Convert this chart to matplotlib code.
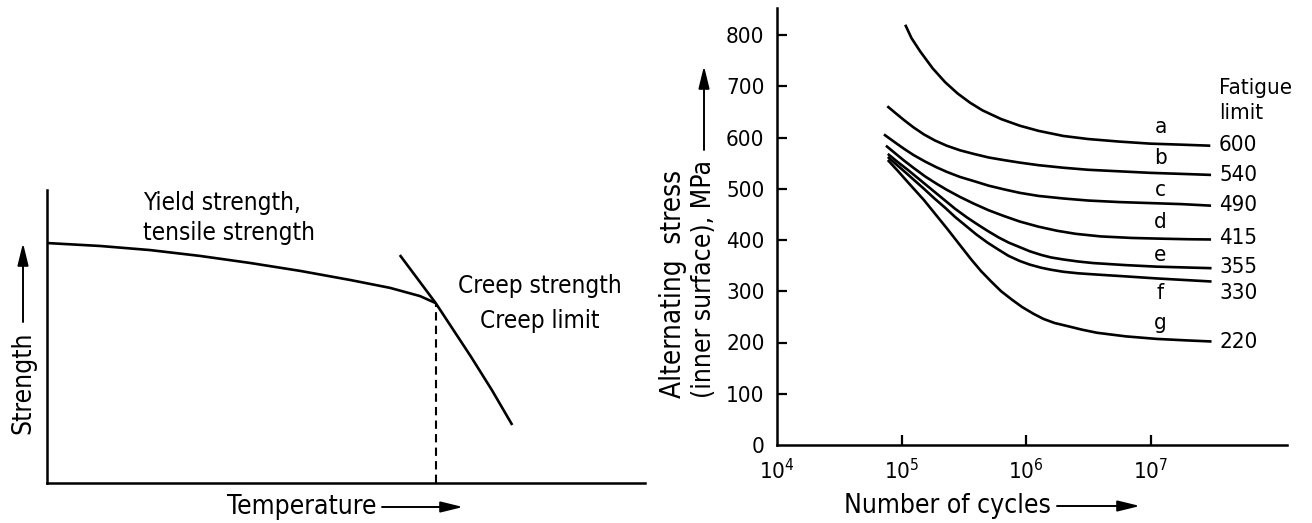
import numpy as np
import matplotlib
matplotlib.use("Agg")
import matplotlib.pyplot as plt
from matplotlib.patches import FancyArrowPatch

plt.rcParams['font.family'] = ['DejaVu Sans']
plt.rcParams['font.stretch'] = 'condensed'
plt.rcParams['mathtext.fontset'] = 'dejavusans'

# ---------------- data ----------------
# Left schematic (normalised temperature / strength units)
yield_temp = [0.0, 0.0886, 0.1722, 0.2559, 0.3395, 0.4231, 0.5067, 0.5736, 0.6237, 0.650]
yield_strength = [0.819, 0.809, 0.795, 0.775, 0.751, 0.724, 0.693, 0.666, 0.638, 0.614]
creep_temp = [0.590, 0.650, 0.709, 0.744, 0.778]
creep_strength = [0.778, 0.614, 0.431, 0.317, 0.198]
intersect_temp = 0.650
intersect_strength = 0.614

# Right chart: S-N curves (log10 cycles, MPa)
curve_names = ['a', 'b', 'c', 'd', 'e', 'f', 'g']
logN_a = [5.03, 5.08, 5.15, 5.25, 5.35, 5.45, 5.55, 5.65, 5.80, 5.95, 6.10, 6.30,
          6.50, 6.75, 7.00, 7.25, 7.48]
S_a = [820, 794, 768, 735, 708, 686, 668, 653, 636, 623, 613, 603,
       597, 592, 588, 586, 584]
logN_b = [4.886, 4.95, 5.02, 5.095, 5.18, 5.27, 5.363, 5.47, 5.58, 5.70, 5.82, 5.95,
          6.10, 6.30, 6.50, 6.75, 7.00, 7.25, 7.486]
S_b = [661, 648, 634, 620, 606, 594, 584, 575, 568, 561, 556, 551,
       546, 541, 537, 534, 531, 529, 527]
logN_c = [4.859, 4.95, 5.02, 5.095, 5.19, 5.28, 5.363, 5.47, 5.58, 5.70, 5.82, 5.95,
          6.10, 6.30, 6.50, 6.75, 7.00, 7.25, 7.486]
S_c = [606, 590, 578, 566, 553, 542, 533, 523, 515, 506, 499, 492,
       486, 481, 477, 474, 472, 470, 467]
logN_d = [4.875, 4.95, 5.02, 5.095, 5.19, 5.28, 5.363, 5.47, 5.58, 5.70, 5.82, 5.95,
          6.10, 6.25, 6.40, 6.60, 6.85, 7.10, 7.30, 7.486]
S_d = [584, 569, 555, 541, 524, 510, 498, 484, 471, 458, 447, 436,
       426, 418, 412, 407, 404, 402.5, 401.5, 401]
logN_e = [4.89, 4.97, 5.05, 5.18, 5.26, 5.35, 5.43, 5.52, 5.60, 5.69, 5.78, 5.86,
          5.95, 6.03, 6.12, 6.20, 6.30, 6.42, 6.54, 6.80, 7.05, 7.49]
S_e = [568, 552, 537, 511, 495, 477, 461, 445, 432, 418, 405, 395,
       386, 378, 371, 366, 362, 358, 355, 351, 348, 345]
logN_f = [4.89, 4.97, 5.05, 5.18, 5.26, 5.35, 5.43, 5.52, 5.60, 5.69, 5.78, 5.86,
          5.95, 6.03, 6.12, 6.20, 6.30, 6.42, 6.54, 6.80, 7.05, 7.49]
S_f = [562, 545, 528, 500, 482, 463, 445, 427, 411, 395, 381, 369,
       359, 352, 346, 342, 338, 335, 333, 329, 325, 319]
logN_g = [4.89, 4.97, 5.05, 5.18, 5.27, 5.37, 5.46, 5.56, 5.64, 5.72, 5.80, 5.89,
          5.97, 6.06, 6.14, 6.23, 6.35, 6.45, 6.57, 6.80, 7.05, 7.30, 7.49]
S_g = [556, 535, 513, 478, 451, 421, 393, 362, 339, 319, 300, 283,
       269, 256, 246, 238, 231, 225, 219, 212, 207, 204, 202]
fatigue_limits = ['600', '540', '490', '415', '355', '330', '220']
letter_S = [620, 560, 498, 435, 371, 297, 238]
limit_S = [585, 527, 468, 404, 347, 297, 201]

y_ticks = [0, 100, 200, 300, 400, 500, 600, 700, 800]
x_tick_exps = [4, 5, 6, 7]
x_tick_labels = ['$10^{%d}$' % e for e in x_tick_exps]

# ---------------- layout helpers ----------------
W, H = 1312, 523
def fx(px):
    return px / W
def fy(py):
    return 1 - py / H

FS_TICK = 16
FS_TXT = 17.5
FS_LAB = 19
LW_AX = 1.8
LW = 1.9

fig = plt.figure(figsize=(W / 100, H / 100), dpi=100)

arrow_kw = dict(arrowstyle='-|>,head_length=0.9,head_width=0.22', color='black',
                lw=1.4, mutation_scale=15, shrinkA=0, shrinkB=0,
                transform=fig.transFigure)

# ---------------- left panel ----------------
axL = fig.add_axes([fx(47), fy(483), fx(645) - fx(47), fy(190) - fy(483)])
axL.set_xlim(0, 1)
axL.set_ylim(0, 1)
for s in ['top', 'right']:
    axL.spines[s].set_visible(False)
for s in ['left', 'bottom']:
    axL.spines[s].set_linewidth(LW_AX)
axL.set_xticks([])
axL.set_yticks([])
axL.plot(yield_temp, yield_strength, color='black', lw=LW,
         solid_capstyle='butt', solid_joinstyle='round')
axL.plot(creep_temp, creep_strength, color='black', lw=LW,
         solid_capstyle='butt', solid_joinstyle='round')
axL.plot([intersect_temp, intersect_temp], [0, intersect_strength], color='black',
         lw=1.5, linestyle=(0, (4, 2.5)))

fig.text(fx(143), fy(203), 'Yield strength,', fontsize=FS_TXT, ha='left', va='center')
fig.text(fx(143), fy(233), 'tensile strength', fontsize=FS_TXT, ha='left', va='center')
fig.text(fx(540), fy(286), 'Creep strength', fontsize=FS_TXT, ha='center', va='center')
fig.text(fx(540), fy(321), 'Creep limit', fontsize=FS_TXT, ha='center', va='center')

fig.text(fx(23), fy(434), 'Strength', rotation=90, ha='center', va='bottom',
         fontsize=FS_LAB)
fig.text(fx(227), fy(507), 'Temperature', ha='left', va='center', fontsize=FS_LAB)
fig.add_artist(FancyArrowPatch((fx(23), fy(322)), (fx(23), fy(243)), **arrow_kw))
fig.add_artist(FancyArrowPatch((fx(382), fy(507)), (fx(463), fy(507)), **arrow_kw))

# ---------------- right panel ----------------
axR = fig.add_axes([fx(777), fy(445), fx(1287) - fx(777), fy(8) - fy(445)])
axR.set_xscale('log')
axR.set_xlim(1e4, 10 ** 8.096)
axR.set_ylim(0, (445 - 8) / 0.5125)
for s in ['top', 'right']:
    axR.spines[s].set_visible(False)
for s in ['left', 'bottom']:
    axR.spines[s].set_linewidth(LW_AX)

axR.set_yticks(y_ticks)
axR.set_yticklabels([str(v) for v in y_ticks])
axR.set_xticks([10.0 ** e for e in x_tick_exps])
axR.set_xticklabels(x_tick_labels)
axR.minorticks_off()
axR.tick_params(axis='both', direction='in', length=7.5, width=1.6, labelsize=FS_TICK)
axR.tick_params(axis='y', pad=9)
axR.tick_params(axis='x', pad=9)
axR.xaxis.get_major_ticks()[0].tick1line.set_visible(False)
axR.yaxis.get_major_ticks()[0].tick1line.set_visible(False)

all_logN = [logN_a, logN_b, logN_c, logN_d, logN_e, logN_f, logN_g]
all_S = [S_a, S_b, S_c, S_d, S_e, S_f, S_g]
for name, ln, s, ls, lim, lab in zip(curve_names, all_logN, all_S, letter_S,
                                        limit_S, fatigue_limits):
    axR.plot(10 ** np.array(ln), s, color='black', lw=LW,
             solid_capstyle='butt', solid_joinstyle='round')
    axR.text(10 ** 7.08, ls, name, fontsize=FS_TICK, ha='center', va='center')
    axR.text(10 ** 7.55, lim, lab, fontsize=FS_TICK, ha='left', va='center')

axR.text(10 ** 7.55, 697, 'Fatigue', fontsize=FS_TICK, ha='left', va='center')
axR.text(10 ** 7.55, 648, 'limit', fontsize=FS_TICK, ha='left', va='center')

fig.text(fx(673), fy(398), 'Alternating  stress', rotation=90, ha='center',
         va='bottom', fontsize=20)
fig.text(fx(704), fy(398), '(inner surface), MPa', rotation=90, ha='center',
         va='bottom', fontsize=FS_LAB)
fig.add_artist(FancyArrowPatch((fx(704), fy(150)), (fx(704), fy(66)), **arrow_kw))

fig.text(fx(844), fy(506), 'Number of cycles', ha='left', va='center', fontsize=FS_LAB)
fig.add_artist(FancyArrowPatch((fx(1057), fy(506)), (fx(1140), fy(506)), **arrow_kw))

fig.savefig('out.png', dpi=100, facecolor='white')
